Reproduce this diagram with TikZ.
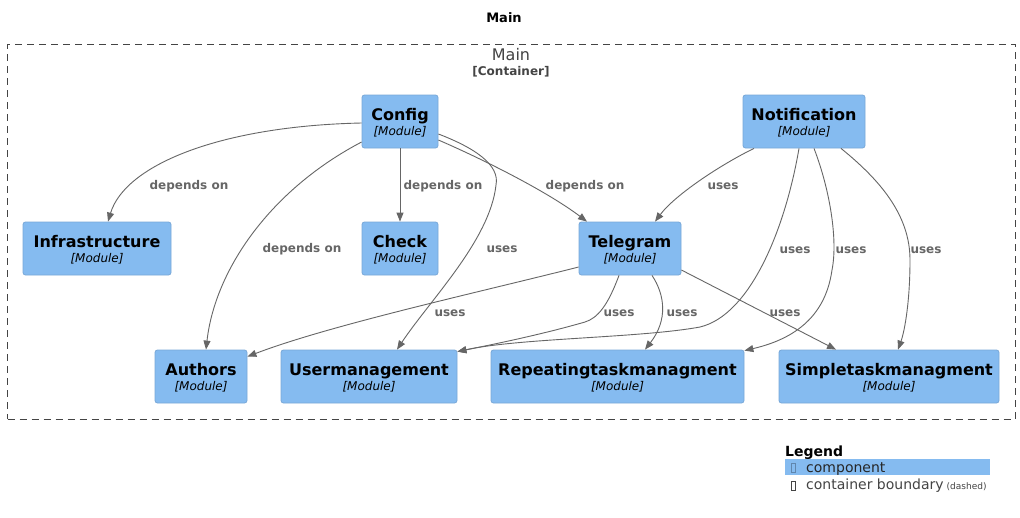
\documentclass[tikz,border=0pt]{standalone}
\usepackage{fontspec}
\setmainfont{DejaVu Sans}
\usetikzlibrary{arrows.meta,calc}
\definecolor{compfill}{HTML}{85BBF0}
\definecolor{compdraw}{HTML}{78A8D8}
\definecolor{edgecol}{HTML}{666666}
\definecolor{boundcol}{HTML}{444444}
\begin{document}
\begin{tikzpicture}[x=1pt,y=-1pt,
  comp/.style={rectangle, rounded corners=2.5pt, fill=compfill, draw=compdraw, line width=0.8pt,
    minimum height=53pt, inner sep=0pt, text height=10pt, text depth=13pt,
    font=\bfseries\fontsize{16}{16}\selectfont, label={[modsty]center:{[Module]}}},
  modsty/.style={anchor=base, yshift=-10.5pt, inner sep=0pt, text=black, font=\itshape\fontsize{12}{12}\selectfont},
  rel/.style={draw=edgecol, line width=0.9pt, -{Triangle[length=9pt,width=7pt]}},
  lbl/.style={text=edgecol, inner sep=0pt, font=\bfseries\fontsize{12}{12}\selectfont},
  boundary/.style={draw=boundcol, line width=1pt, dash pattern=on 7pt off 5pt, inner sep=0pt},
  legtext/.style={anchor=base west, inner sep=0pt, font=\fontsize{14}{14}\selectfont},
]
\useasboundingbox (0,0) rectangle (1020,517);
\fill[white] (0,0) rectangle (1020,517);

% title
\node[font=\bfseries\fontsize{13}{13}\selectfont, text=black] (title) at (504,18) {Main};

% container boundary
\node[boundary, minimum width=1007.5pt, minimum height=375pt] (main) at (511.25,231.5) {};
\node[text=boundcol, inner sep=0pt, font=\fontsize{16}{16}\selectfont] (mainname) at (511,55) {Main};
\node[text=boundcol, inner sep=0pt, font=\bfseries\fontsize{12}{12}\selectfont] (maintype) at (511,72) {[Container]};

% components
\node[comp, minimum width=76pt]  (config)   at (400,121.5) {Config};
\node[comp, minimum width=122pt] (notif)    at (804,121.5) {Notification};
\node[comp, minimum width=148pt] (infra)    at (97,248.5)  {Infrastructure};
\node[comp, minimum width=76pt]  (check)    at (400,248.5) {Check};
\node[comp, minimum width=102pt] (telegram) at (630,248.5) {Telegram};
\node[comp, minimum width=92pt]  (authors)  at (201,376.5) {Authors};
\node[comp, minimum width=176pt] (userm)    at (369,376.5) {Usermanagement};
\node[comp, minimum width=253pt] (repeat)   at (617.5,376.5) {Repeatingtaskmanagment};
\node[comp, minimum width=220pt] (simple)   at (889,376.5) {Simpletaskmanagment};

% relations
\draw[rel] ($(config.west)+(0,1.5)$) .. controls (220,126) and (125,165) .. ($(infra.north)+(11,0)$);
\draw[rel] (config.south) -- (check.north);
\draw[rel] ($(config.west)+(0,20.5)$) .. controls (270,190) and (215,270) .. ($(authors.north)+(5,0)$);
\draw[rel] ($(config.east)+(0,12.5)$) .. controls (475,148) and (500,165) .. (496,185)
   .. controls (490,240) and (430,300) .. ($(userm.north)+(28,0)$);
\draw[rel] ($(config.east)+(0,18.5)$) .. controls (480,158) and (545,190) .. ($(telegram.north)+(-43,0)$);

\draw[rel] ($(notif.south)+(-50,0)$) .. controls (720,165) and (675,195) .. ($(telegram.north)+(25,0)$);
\draw[rel] ($(notif.south)+(-5,0)$) .. controls (785,230) and (750,315) .. (700,327)
   .. controls (640,338) and (520,338) .. ($(userm.north east)+(0,2)$);
\draw[rel] ($(notif.south)+(10,0)$) .. controls (830,190) and (838,240) .. (832,270)
   .. controls (825,320) and (790,340) .. ($(repeat.north east)+(0,1)$);
\draw[rel] ($(notif.south)+(37,0)$) .. controls (880,180) and (910,215) .. (910,260)
   .. controls (910,300) and (905,330) .. ($(simple.north)+(9,0)$);

\draw[rel] ($(telegram.west)+(0,18.5)$) .. controls (480,292) and (330,325) .. ($(authors.north east)+(0,7)$);
\draw[rel] ($(telegram.south)+(-11,0)$) .. controls (608,305) and (598,318) .. (585,322)
   .. controls (540,335) and (490,345) .. ($(userm.north east)+(0,2)$);
\draw[rel] ($(telegram.south)+(22,0)$) .. controls (665,295) and (668,320) .. ($(repeat.north)+(27.5,0)$);
\draw[rel] ($(telegram.east)+(0,21.5)$) -- ($(simple.north)+(-53,0)$);

% relation labels
\node[lbl] (l1)  at (189,186) {depends on};
\node[lbl] (l2)  at (443,186) {depends on};
\node[lbl] (l3)  at (302,249) {depends on};
\node[lbl] (l4)  at (502,249) {uses};
\node[lbl] (l5)  at (585,186) {depends on};
\node[lbl] (l6)  at (723,186) {uses};
\node[lbl] (l7)  at (795,250) {uses};
\node[lbl] (l8)  at (851,250) {uses};
\node[lbl] (l9)  at (926,250) {uses};
\node[lbl] (l10) at (450,313) {uses};
\node[lbl] (l11) at (619,313) {uses};
\node[lbl] (l12) at (682,313) {uses};
\node[lbl] (l13) at (785,313) {uses};

% legend
\node[anchor=base west, inner sep=0pt, font=\bfseries\fontsize{14}{14}\selectfont] (legend) at (785,456) {Legend};
\fill[compfill] (785,459) rectangle (990,475);
\draw[compdraw!80!black, line width=0.6pt] (791,463.5) rectangle (795,472.5);
\node[legtext, text=black!85] (legcomp) at (806,472) {component};
\draw[boundcol, line width=0.6pt] (791,481.5) rectangle (795,490);
\node[legtext, text=boundcol] (legbound) at (806,489) {container boundary\hspace{3pt}{\fontsize{9}{9}\selectfont (dashed)}};
\end{tikzpicture}
\end{document}
